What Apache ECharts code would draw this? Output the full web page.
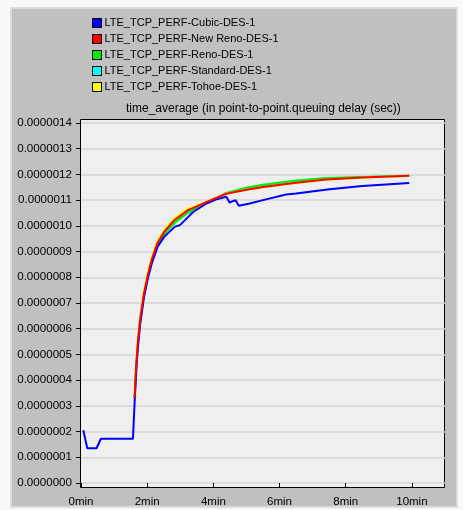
<!DOCTYPE html>
<html>
<head>
<meta charset="utf-8">
<script src="https://cdn.jsdelivr.net/npm/echarts@6/dist/echarts.min.js"></script>
<style>
  html, body { margin: 0; padding: 0; background: #f8f8f8; }
  #main { width: 463px; height: 510px; }
</style>
</head>
<body>
<div id="main"></div>
<script>
// series names, as in the legend
var names = [
  "LTE_TCP_PERF-Cubic-DES-1",
  "LTE_TCP_PERF-New Reno-DES-1",
  "LTE_TCP_PERF-Reno-DES-1",
  "LTE_TCP_PERF-Standard-DES-1",
  "LTE_TCP_PERF-Tohoe-DES-1"
];
var colors = ["#0000ff", "#ff0000", "#00ee00", "#00ffff", "#ffff00"];

// time in minutes, delay in seconds
var cubicT = [0.07, 0.19, 0.47, 0.6, 1.57, 1.63, 1.69, 1.78, 1.9, 2.02, 2.14, 2.32, 2.53, 2.84, 2.99, 3.39, 3.79, 4.09, 4.39, 4.49, 4.67, 4.77, 5.1, 5.5, 6.2, 6.5, 7.51, 8.5, 9.92];
var cubicV = [2.05e-7, 1.35e-7, 1.35e-7, 1.72e-7, 1.72e-7, 3.4e-7, 4.8e-7, 6.1e-7, 7.2e-7, 7.95e-7, 8.55e-7, 9.2e-7, 9.6e-7, 9.97e-7, 1.003e-6, 1.054e-6, 1.087e-6, 1.103e-6, 1.113e-6, 1.091e-6, 1.100e-6, 1.078e-6, 1.087e-6, 1.100e-6, 1.122e-6, 1.126e-6, 1.142e-6, 1.155e-6, 1.167e-6];

// the other four start at the jump
var otherT = [1.62, 1.66, 1.72, 1.8, 1.9, 2.02, 2.14, 2.3, 2.52, 2.82, 3.22, 3.8, 4.39, 5.0, 5.5, 6.5, 7.41, 8.5, 9.92];
var newRenoV = [3.3e-7, 4.4e-7, 5.5e-7, 6.5e-7, 7.35e-7, 8.1e-7, 8.7e-7, 9.3e-7, 9.78e-7, 1.022e-6, 1.06e-6, 1.093e-6, 1.125e-6, 1.14e-6, 1.151e-6, 1.168e-6, 1.18e-6, 1.188e-6, 1.195e-6];
var renoV = [3.3e-7, 4.4e-7, 5.5e-7, 6.45e-7, 7.3e-7, 8.05e-7, 8.65e-7, 9.25e-7, 9.7e-7, 1.01e-6, 1.05e-6, 1.09e-6, 1.128e-6, 1.148e-6, 1.16e-6, 1.176e-6, 1.186e-6, 1.19e-6, 1.195e-6];
var standardV = [3.3e-7, 4.4e-7, 5.5e-7, 6.45e-7, 7.3e-7, 8.05e-7, 8.65e-7, 9.25e-7, 9.72e-7, 1.012e-6, 1.052e-6, 1.09e-6, 1.127e-6, 1.146e-6, 1.158e-6, 1.174e-6, 1.184e-6, 1.189e-6, 1.194e-6];
var tohoeV = [3.4e-7, 4.5e-7, 5.6e-7, 6.6e-7, 7.45e-7, 8.2e-7, 8.8e-7, 9.4e-7, 9.85e-7, 1.03e-6, 1.066e-6, 1.095e-6, 1.125e-6, 1.14e-6, 1.15e-6, 1.167e-6, 1.179e-6, 1.187e-6, 1.194e-6];

var xTicks = [0, 2, 4, 6, 8, 10];

function pairs(t, v) {
  var out = [];
  for (var i = 0; i < t.length; i++) out.push([t[i], v[i]]);
  return out;
}

var seriesData = [
  pairs(cubicT, cubicV),
  pairs(otherT, newRenoV),
  pairs(otherT, renoV),
  pairs(otherT, standardV),
  pairs(otherT, tohoeV)
];
// drawing order: red on top, then blue
var zs = [5, 6, 3, 2, 4];

var font = "'Liberation Sans', Arial, sans-serif";
var myChart = echarts.init(document.getElementById("main"));

var option = {
  animation: false,
  backgroundColor: "#f8f8f8",
  title: {
    text: "time_average (in point-to-point.queuing delay (sec))",
    left: 126,
    top: 103,
    padding: 0,
    textStyle: { fontSize: 12, fontWeight: "normal", color: "#000", fontFamily: font }
  },
  legend: {
    orient: "vertical",
    left: 92,
    top: 16,
    padding: 0,
    itemWidth: 9,
    itemHeight: 9,
    itemGap: 2,
    icon: "rect",
    itemStyle: { borderColor: "#000", borderWidth: 1 },
    textStyle: { fontSize: 11, lineHeight: 14, color: "#000", fontFamily: font, padding: [0, 0, 0, -2] },
    data: names
  },
  graphic: {
    elements: [
      {
        type: "rect",
        z: -20,
        shape: { x: 11, y: 8, width: 446, height: 499 },
        style: { fill: "#c0c0c0", stroke: "#dcdcdc", lineWidth: 2 }
      },
      {
        type: "rect",
        z: -10,
        shape: { x: 80.5, y: 119.5, width: 364, height: 368 },
        style: { fill: "#efefef", stroke: "#000", lineWidth: 1 }
      }
    ]
  },
  grid: { left: 81, right: 18, top: 123, bottom: 27 },
  xAxis: {
    type: "value",
    min: 0,
    max: 11,
    offset: 5,
    axisLine: { show: false },
    axisTick: { show: true, length: 5, customValues: xTicks, lineStyle: { color: "#000" } },
    axisLabel: {
      customValues: xTicks,
      margin: 8,
      color: "#000",
      fontSize: 11.5,
      fontFamily: font,
      formatter: function (v) { return v + "min"; }
    },
    splitLine: { show: false }
  },
  yAxis: {
    type: "value",
    min: 0,
    max: 1.4e-6,
    interval: 1e-7,
    axisLine: { show: false },
    axisTick: { show: true, length: 5, lineStyle: { color: "#000" } },
    axisLabel: {
      margin: 9,
      color: "#000",
      fontSize: 11.6,
      fontFamily: font,
      formatter: function (v) { return v.toFixed(7); }
    },
    splitLine: { show: true, lineStyle: { color: "#d4d4d4", width: 1.5 } }
  },
  series: names.map(function (n, i) {
    return {
      name: n,
      type: "line",
      z: zs[i],
      showSymbol: false,
      data: seriesData[i],
      itemStyle: { color: colors[i] },
      lineStyle: { color: colors[i], width: 2 }
    };
  })
};
myChart.setOption(option);
</script>
</body>
</html>
